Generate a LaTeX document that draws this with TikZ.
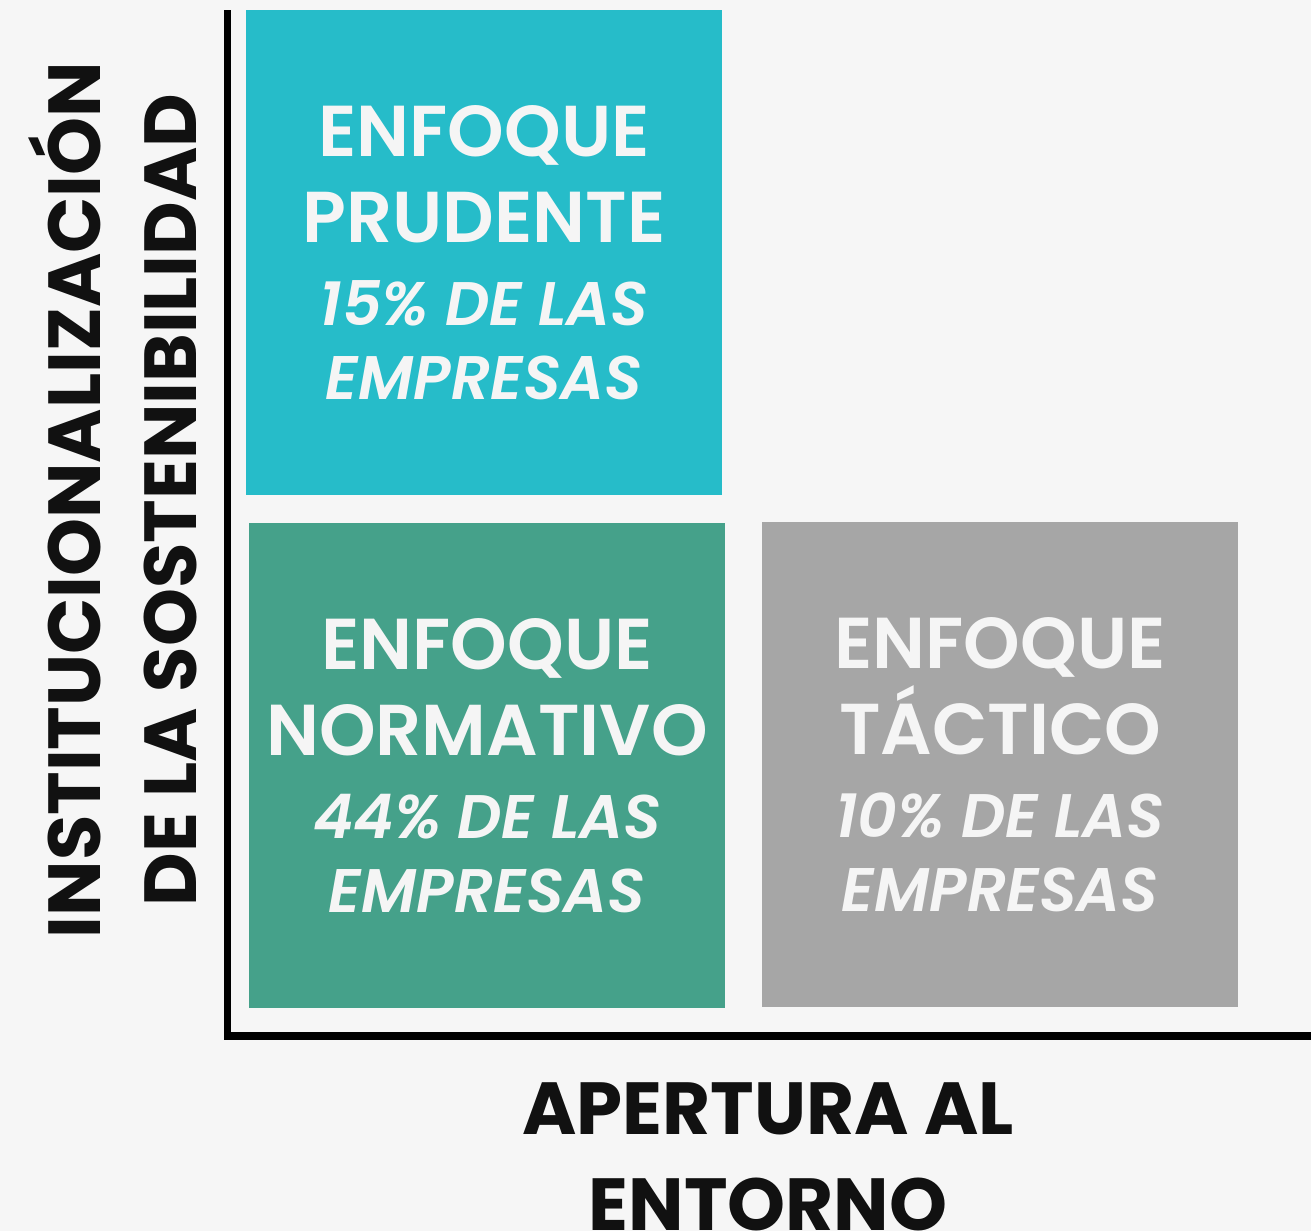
\documentclass[tikz,border=0pt]{standalone}
\usepackage{fontspec}
\setmainfont{Poppins}[BoldFont={Poppins SemiBold}, BoldItalicFont={Poppins SemiBold Italic}]
\newfontfamily\heavyfont{Poppins Bold}
\usepackage{tikz}
\usetikzlibrary{positioning}
\definecolor{pagebg}{HTML}{F6F6F6}
\definecolor{tealbox}{HTML}{26BCC9}
\definecolor{greenbox}{HTML}{45A18A}
\definecolor{graybox}{HTML}{A6A6A6}
\definecolor{inktext}{HTML}{111111}
\definecolor{boxtext}{HTML}{F5F5F5}
\newcommand{\titlefont}{\fontsize{41}{47}\selectfont\bfseries}
\newcommand{\pctfont}{\fontsize{35}{47}\selectfont\bfseries\itshape}

\begin{document}
\begin{tikzpicture}[x=0.02cm,y=-0.02cm,
  every node/.style = {align = center, inner sep = 0pt},
  quadbox/.style  = {rectangle, minimum width = 9.52cm, minimum height = 9.7cm, text = boxtext, font = \fontsize{40}{47}\selectfont},
  axisline/.style  = {line width = 4.5pt, black},
  axislabel/.style = {text = inktext, font = \fontsize{42}{54.5}\selectfont\heavyfont}]
\fill[pagebg] (0,0) rectangle (1311,1231);
\useasboundingbox (0,0) rectangle (1311,1231);

\node[quadbox, fill = tealbox](prudente)  at (484,252.5) {\titlefont ENFOQUE\\[2pt]\titlefont PRUDENTE\\\pctfont 15\% DE LAS\\[-5pt]\pctfont EMPRESAS};
\node[quadbox, fill = greenbox](normativo) at (487,765.5) {\titlefont ENFOQUE\\[2pt]\titlefont NORMATIVO\\\pctfont 44\% DE LAS\\[-5pt]\pctfont EMPRESAS};
\node[quadbox, fill = graybox](tactico)   at (1000,764.5) {\titlefont ENFOQUE\\[2pt]\titlefont TÁCTICO\\\pctfont 10\% DE LAS\\[-5pt]\pctfont EMPRESAS};

\coordinate(top)    at (227.5,10);
\coordinate(origin) at (227.5,1036);
\coordinate(xend)   at (1311,1036);
\draw[axisline] (top) -- (origin) -- (xend);

\node[axislabel, rotate = 90](vlabel) at (113,500) {INSTITUCIONALIZACIÓN\\DE LA SOSTENIBILIDAD};
\node[axislabel](hlabel) at (768,1157) {APERTURA AL\\ENTORNO};

\end{tikzpicture}
\end{document}
